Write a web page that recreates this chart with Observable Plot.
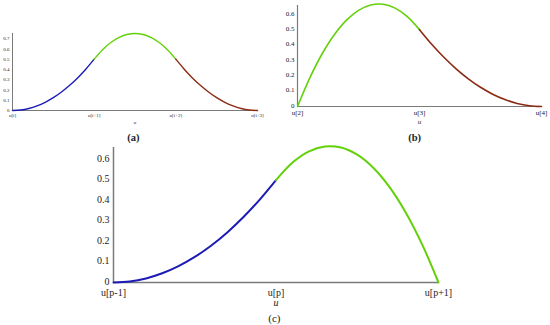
<!DOCTYPE html>
<html>
<head>
<meta charset="utf-8">
<script src="https://cdn.jsdelivr.net/npm/d3@7"></script>
<script src="https://cdn.jsdelivr.net/npm/@observablehq/plot@0.6"></script>
<style>
  html, body { margin: 0; padding: 0; background: #fff; }
  #wrap { position: relative; width: 550px; height: 325px; overflow: hidden; }
  #wrap svg { position: absolute; left: 0; top: 0; background: transparent !important; }
</style>
</head>
<body>
<div id="wrap"></div>
<script>
// ---- sample positions inside each knot span (fraction of span) ----
const steps = [0, 0.1, 0.2, 0.3, 0.4, 0.5, 0.6, 0.7, 0.8, 0.9, 1];

// ---- panel (a): uniform knots u[i]..u[i+3] ----
const aKnots = [0, 1, 2, 3];
const aKnotLabels = ["u[i]", "u[i+1]", "u[i+2]", "u[i+3]"];
const aYTicks = [0, 0.1, 0.2, 0.3, 0.4, 0.5, 0.6, 0.7];
const aBlue  = [0, 0.005, 0.02, 0.045, 0.08, 0.125, 0.18, 0.245, 0.32, 0.405, 0.5];
const aGreen = [0.5, 0.59, 0.66, 0.71, 0.74, 0.75, 0.74, 0.71, 0.66, 0.59, 0.5];
const aBrown = [0.5, 0.405, 0.32, 0.245, 0.18, 0.125, 0.08, 0.045, 0.02, 0.005, 0];

// ---- panel (b): knots u[2]..u[4] ----
const bKnots = [2, 3, 4];
const bKnotLabels = ["u[2]", "u[3]", "u[4]"];
const bYTicks = [0, 0.1, 0.2, 0.3, 0.4, 0.5, 0.6];
const bGreen = [0, 0.185, 0.34, 0.465, 0.56, 0.625, 0.66, 0.665, 0.64, 0.585, 0.5];
const bBrown = [0.5, 0.405, 0.32, 0.245, 0.18, 0.125, 0.08, 0.045, 0.02, 0.005, 0];

// ---- panel (c): knots u[p-1]..u[p+1] ----
const cKnots = [0, 1, 2];
const cKnotLabels = ["u[p-1]", "u[p]", "u[p+1]"];
const cYTicks = [0, 0.1, 0.2, 0.3, 0.4, 0.5, 0.6];
const cBlue  = [0, 0.005, 0.02, 0.045, 0.08, 0.125, 0.18, 0.245, 0.32, 0.405, 0.5];
const cGreen = [0.5, 0.585, 0.64, 0.665, 0.66, 0.625, 0.56, 0.465, 0.34, 0.185, 0];

const captions = ["(a)", "(b)", "(c)"];
const axisTitle = "u";

const BLUE = "#1c1cb4", GREEN = "#63d10a", BROWN = "#8a2a12", AXIS = "#7a7a7a";
const FONT = "Liberation Serif, Times New Roman, serif";

const seg = (start, vals) => vals.map((v, i) => ({x: start + steps[i], y: v}));

function panel(o) {
  const lines = o.segments.map(s =>
    Plot.line(seg(s.start, s.vals), {x: "x", y: "y", stroke: s.color, strokeWidth: o.sw, curve: "catmull-rom"}));
  return Plot.plot({
    width: 550, height: 325,
    marginLeft: o.ml, marginRight: o.mr, marginTop: o.mt, marginBottom: o.mb,
    x: {domain: o.xDomain, axis: null},
    y: {domain: o.yDomain, axis: null},
    style: {fontFamily: FONT, fontSize: o.fs + "px", color: "#222", background: "transparent", overflow: "visible"},
    marks: [
      Plot.ruleY([0], {stroke: AXIS, strokeWidth: o.aw}),
      Plot.ruleX([o.xDomain[0]], {stroke: AXIS, strokeWidth: o.aw}),
      Plot.axisY({ticks: o.yTicks, tickSize: 0, tickPadding: o.ypad, tickFormat: d => d === 0 ? "0" : d.toFixed(1), label: null, fill: "#222", dy: o.ydy}),
      Plot.axisX({ticks: o.knots, tickSize: 0, tickPadding: o.xpad, tickFormat: d => o.knotLabels[o.knots.indexOf(d)], label: null, fill: "#222"}),
      ...lines,
      Plot.text([{x: o.uX}], {x: "x", y: () => 0, text: () => axisTitle, dy: o.uDy, fontSize: o.fs, fontStyle: "italic", fill: "#222"}),
      Plot.text([{x: o.capX}], {x: "x", y: () => 0, text: () => o.caption, dy: o.capDy, fontSize: o.capFs, fontWeight: o.capW, fill: "#222"})
    ]
  });
}

const wrap = document.getElementById("wrap");

// (a)
wrap.appendChild(panel({
  ml: 12, mr: 293, mt: 33, mb: 215,
  xDomain: [0, 3], yDomain: [0, 0.75],
  knots: aKnots, knotLabels: aKnotLabels, yTicks: aYTicks,
  segments: [{start: 0, vals: aBlue, color: BLUE}, {start: 1, vals: aGreen, color: GREEN}, {start: 2, vals: aBrown, color: BROWN}],
  sw: 1.4, aw: 1, fs: 5, ypad: 3, xpad: 3, ydy: 0,
  uX: 1.5, uDy: 12, capX: 1.48, capDy: 27, caption: captions[0], capFs: 10.5, capW: "bold"
}));

// (b)
wrap.appendChild(panel({
  ml: 297, mr: 9, mt: 5, mb: 219,
  xDomain: [2, 4], yDomain: [0, 0.657],
  knots: bKnots, knotLabels: bKnotLabels, yTicks: bYTicks,
  segments: [{start: 2, vals: bGreen, color: GREEN}, {start: 3, vals: bBrown, color: BROWN}],
  sw: 1.6, aw: 1.2, fs: 7, ypad: 3, xpad: 4, ydy: -1,
  uX: 3, uDy: 15, capX: 2.96, capDy: 31, caption: captions[1], capFs: 10.5, capW: "bold"
}));

// (c)
wrap.appendChild(panel({
  ml: 113, mr: 112, mt: 147, mb: 43,
  xDomain: [0, 2], yDomain: [0, 0.66],
  knots: cKnots, knotLabels: cKnotLabels, yTicks: cYTicks,
  segments: [{start: 0, vals: cBlue, color: BLUE}, {start: 1, vals: cGreen, color: GREEN}],
  sw: 2, aw: 1.5, fs: 10, ypad: 4, xpad: 6, ydy: -1,
  uX: 1, uDy: 20, capX: 0.99, capDy: 36, caption: captions[2], capFs: 11, capW: "normal"
}));
</script>
</body>
</html>
